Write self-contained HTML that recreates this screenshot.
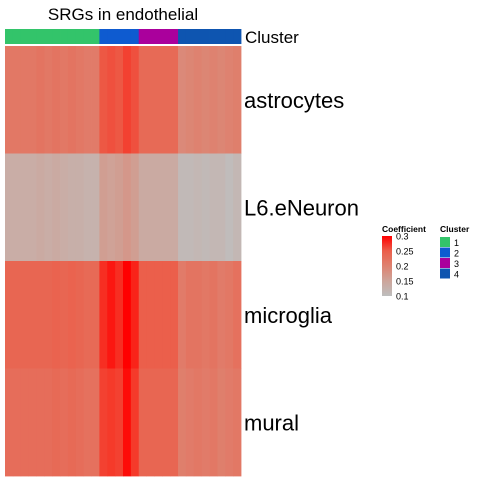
<!DOCTYPE html>
<html><head><meta charset="utf-8"><style>
body{margin:0;background:#fff;font-family:"Liberation Sans",sans-serif}
</style></head><body>
<svg id="c" width="480" height="480" xmlns="http://www.w3.org/2000/svg">
<text x="123" y="20" font-size="17" text-anchor="middle">SRGs in endothelial</text>
<g id="cells"></g>
<g id="clusterbar"></g>
<text x="245" y="43" font-size="17">Cluster</text>
<g id="rowlabels"></g>
<text x="382" y="232" font-size="8.5" font-weight="bold">Coefficient</text>
<defs><linearGradient id="g" x1="0" y1="1" x2="0" y2="0">
<stop offset="0" stop-color="#bebebe"/><stop offset="0.25" stop-color="#cda59b"/><stop offset="0.5" stop-color="#de8270"/><stop offset="0.75" stop-color="#eb5f4b"/><stop offset="1" stop-color="#ff0000"/></linearGradient></defs>
<rect x="382" y="236" width="10" height="60" fill="url(#g)"/>
<g id="leg" font-size="9"></g>
<text x="440" y="232" font-size="8.5" font-weight="bold">Cluster</text>
</svg>
<script>
const rows=["astrocytes","L6.eNeuron","microglia","mural"];
const clusters=[1,1,1,1,1,1,1,1,1,1,1,1,2,2,2,2,2,3,3,3,3,3,4,4,4,4,4,4,4,4];
const clusterColors={1:"#33c46a",2:"#0e5bd0",3:"#aa009c",4:"#0e55b0"};
const astro=[0.215,0.215,0.215,0.215,0.22,0.215,0.22,0.215,0.22,0.215,0.21,0.21,0.255,0.26,0.255,0.27,0.26,0.235,0.235,0.235,0.235,0.235,0.19,0.195,0.2,0.195,0.2,0.195,0.2,0.205];
const l6=[0.135,0.135,0.135,0.135,0.14,0.135,0.14,0.135,0.13,0.13,0.125,0.125,0.16,0.155,0.16,0.17,0.16,0.14,0.14,0.14,0.14,0.14,0.11,0.11,0.115,0.11,0.115,0.115,0.105,0.115];
const micro=[0.24,0.24,0.24,0.24,0.24,0.24,0.245,0.24,0.245,0.24,0.235,0.235,0.28,0.29,0.28,0.3,0.285,0.25,0.25,0.25,0.25,0.25,0.21,0.22,0.22,0.215,0.22,0.21,0.215,0.225];
const mural=[0.23,0.23,0.23,0.23,0.23,0.23,0.235,0.23,0.235,0.23,0.225,0.225,0.27,0.275,0.27,0.295,0.275,0.24,0.24,0.24,0.24,0.24,0.205,0.21,0.215,0.21,0.215,0.205,0.21,0.215];
const data=[astro,l6,micro,mural];
const legTicks=[0.3,0.25,0.2,0.15,0.1];
const X0=5,X1=241,Y0=46,Y1=476;
const cw=(X1-X0)/clusters.length, rh=(Y1-Y0)/rows.length;
const stops=[[0.1,[190,190,190]],[0.15,[205,165,155]],[0.2,[222,130,112]],[0.25,[235,95,75]],[0.275,[245,58,42]],[0.3,[255,0,0]]];
function col(v){v=Math.max(0.1,Math.min(0.3,v));for(let i=0;i<stops.length-1;i++){const[a,ca]=stops[i],[b,cb]=stops[i+1];if(v<=b){const t=(v-a)/(b-a);return "rgb("+ca.map((c,k)=>Math.round(c+(cb[k]-c)*t)).join(",")+")";}}return "rgb(255,0,0)";}
const NS="http://www.w3.org/2000/svg";
const cells=document.getElementById("cells");
data.forEach((r,i)=>r.forEach((v,j)=>{const e=document.createElementNS(NS,"rect");
e.setAttribute("x",X0+j*cw);e.setAttribute("y",Y0+i*rh);e.setAttribute("width",cw+0.4);e.setAttribute("height",rh+0.4);e.setAttribute("fill",col(v));


cells.appendChild(e);}));
const cb=document.getElementById("clusterbar");
clusters.forEach((c,j)=>{const e=document.createElementNS(NS,"rect");
e.setAttribute("x",X0+j*cw);e.setAttribute("y",29);e.setAttribute("width",cw+0.4);e.setAttribute("height",15);e.setAttribute("fill",clusterColors[c]);


cb.appendChild(e);});
const rl=document.getElementById("rowlabels");
rows.forEach((n,i)=>{const t=document.createElementNS(NS,"text");
t.setAttribute("x",244);t.setAttribute("y",Y0+i*rh+rh/2+8);t.setAttribute("font-size","22");t.textContent=n;


rl.appendChild(t);});
const leg=document.getElementById("leg");
legTicks.forEach(v=>{const y=236+(0.3-v)/0.2*60;const t=document.createElementNS(NS,"text");
t.setAttribute("x",396);t.setAttribute("y",y+3.5);t.textContent=String(v);


leg.appendChild(t);});
[1,2,3,4].forEach((c,i)=>{const r=document.createElementNS(NS,"rect");
r.setAttribute("x",440);r.setAttribute("y",237+i*10.5);r.setAttribute("width",10);r.setAttribute("height",10);r.setAttribute("fill",clusterColors[c]);


leg.appendChild(r);
const t=document.createElementNS(NS,"text");t.setAttribute("x",454);t.setAttribute("y",246+i*10.5);t.textContent=String(c);


leg.appendChild(t);});
</script>
</body></html>
